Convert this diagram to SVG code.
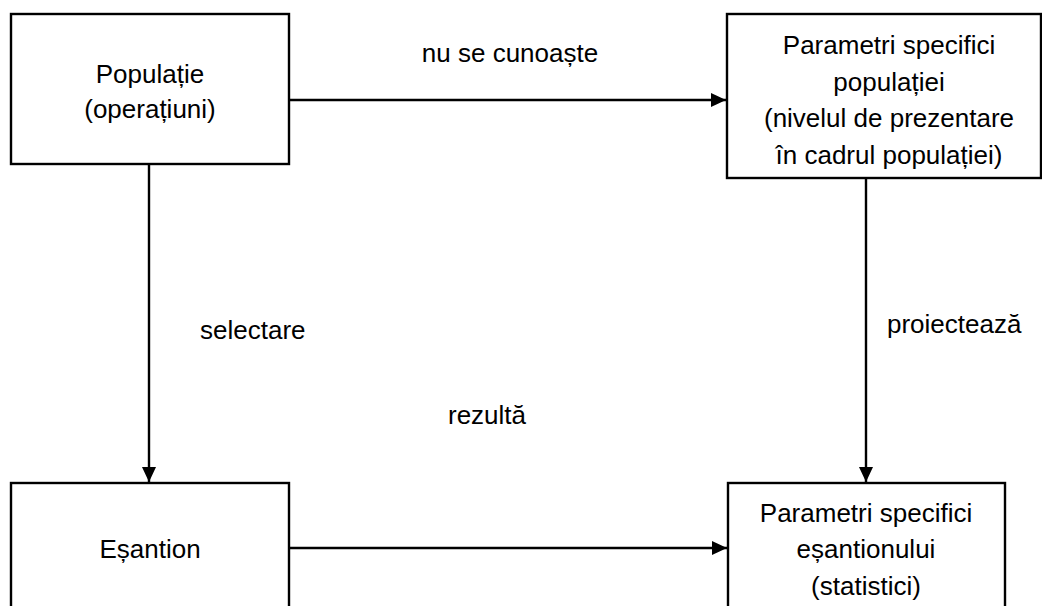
<svg xmlns="http://www.w3.org/2000/svg" width="1042" height="606" viewBox="0 0 1042 606">
  <style>
    .box { fill: #ffffff; stroke: #000000; stroke-width: 2.4; }
    .edge { fill: none; stroke: #000000; stroke-width: 2.4; marker-end: url(#arrow); }
    text { font-family: "Liberation Sans", Arial, sans-serif; font-size: 26px; fill: #000000; }
    .c { text-anchor: middle; }
  </style>
  <defs>
    <marker id="arrow" markerUnits="userSpaceOnUse" markerWidth="16" markerHeight="16" refX="15" refY="7" orient="auto">
      <path d="M0,0 L15,7 L0,14 Z" fill="#000000"/>
    </marker>
  </defs>
  <rect width="1042" height="606" fill="#ffffff"/>

  <g id="connectors">
    <path class="edge" d="M290,100 H726"/>
    <path class="edge" d="M149,165 V482"/>
    <path class="edge" d="M866,178 V482"/>
    <path class="edge" d="M290,548 H727"/>
    <text class="c" x="510" y="62">nu se cunoaște</text>
    <text x="200" y="339">selectare</text>
    <text x="887" y="333">proiectează</text>
    <text class="c" x="487" y="424">rezultă</text>
  </g>

  <g id="populatie">
    <rect class="box" x="11" y="14" width="278" height="150"/>
    <text class="c" x="150" y="83">Populație</text>
    <text class="c" x="150" y="118">(operațiuni)</text>
  </g>

  <g id="parametri-populatie">
    <rect class="box" x="727" y="14" width="314" height="164"/>
    <text class="c" x="889" y="54">Parametri specifici</text>
    <text class="c" x="889" y="91">populației</text>
    <text class="c" x="889" y="127">(nivelul de prezentare</text>
    <text class="c" x="889" y="164">în cadrul populației)</text>
  </g>

  <g id="esantion">
    <rect class="box" x="11" y="483" width="278" height="140"/>
    <text class="c" x="150" y="558">Eșantion</text>
  </g>

  <g id="parametri-esantion">
    <rect class="box" x="728" y="483" width="277" height="140"/>
    <text class="c" x="866" y="522">Parametri specifici</text>
    <text class="c" x="866" y="558">eșantionului</text>
    <text class="c" x="866" y="595">(statistici)</text>
  </g>
</svg>
